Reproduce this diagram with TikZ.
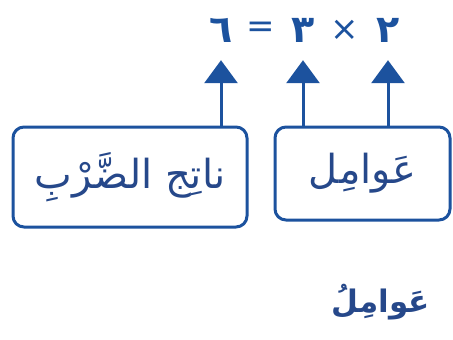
\documentclass[tikz,border=0pt]{standalone}
\usepackage{fontspec}
\usepackage{tikz}
\usetikzlibrary{arrows.meta}
\TeXXeTstate=1
\newfontfamily\arabicfont[Script=Arabic]{DejaVu Sans}
\definecolor{darkblue}{RGB}{28, 82, 158}
\definecolor{textblue}{RGB}{38, 72, 138}

\tikzset{
  digit/.style={text=darkblue, font=\arabicfont\bfseries\fontsize{38}{38}\selectfont, inner sep=0pt, minimum height=44pt},
  oper/.style={text=darkblue, font=\arabicfont\fontsize{34}{34}\selectfont, inner sep=0pt},
  termbox/.style={draw=darkblue, line width=3pt, rounded corners=11pt, text=textblue, inner sep=0pt, font=\arabicfont\fontsize{40}{40}\selectfont},
  pointer/.style={-{Triangle[width=33pt,length=23pt]}, line width=3pt, darkblue, shorten >=8pt}
}

\begin{document}
\begin{tikzpicture}[x=1pt, y=-1pt]
			\useasboundingbox (0, 0) rectangle (453, 340);
			
			% EQUATION
			\node[digit] (six) at (221, 30) {٦};
			\node[oper] (eq) at (261, 30) {=};
			\node[digit] (three) at (303, 30) {٣};
			\node[oper] (times) at (345, 30) {×};
			\node[digit] (two) at (388, 30) {٢};
			
			% BOITES
			\node[termbox, minimum width=234pt, minimum height=100pt] (product) at (130, 177) {\beginR ناتِج الضَّرْبِ\endR};
			\node[termbox, minimum width=175pt, minimum height=93pt] (factors) at (362.5, 173.5) {\beginR عَوامِل\endR};
			
			% FLECHES
			\draw[pointer] (product.north -| six) -- (six.south);
			\draw[pointer] (factors.north -| three) -- (three.south);
			\draw[pointer] (factors.north -| two) -- (two.south);
			
			% MOT
			\node[text=textblue, font=\arabicfont\bfseries\fontsize{31}{31}\selectfont] (word) at (381, 302) {\beginR عَوامِلُ\endR};
			
		\end{tikzpicture}
\end{document}
